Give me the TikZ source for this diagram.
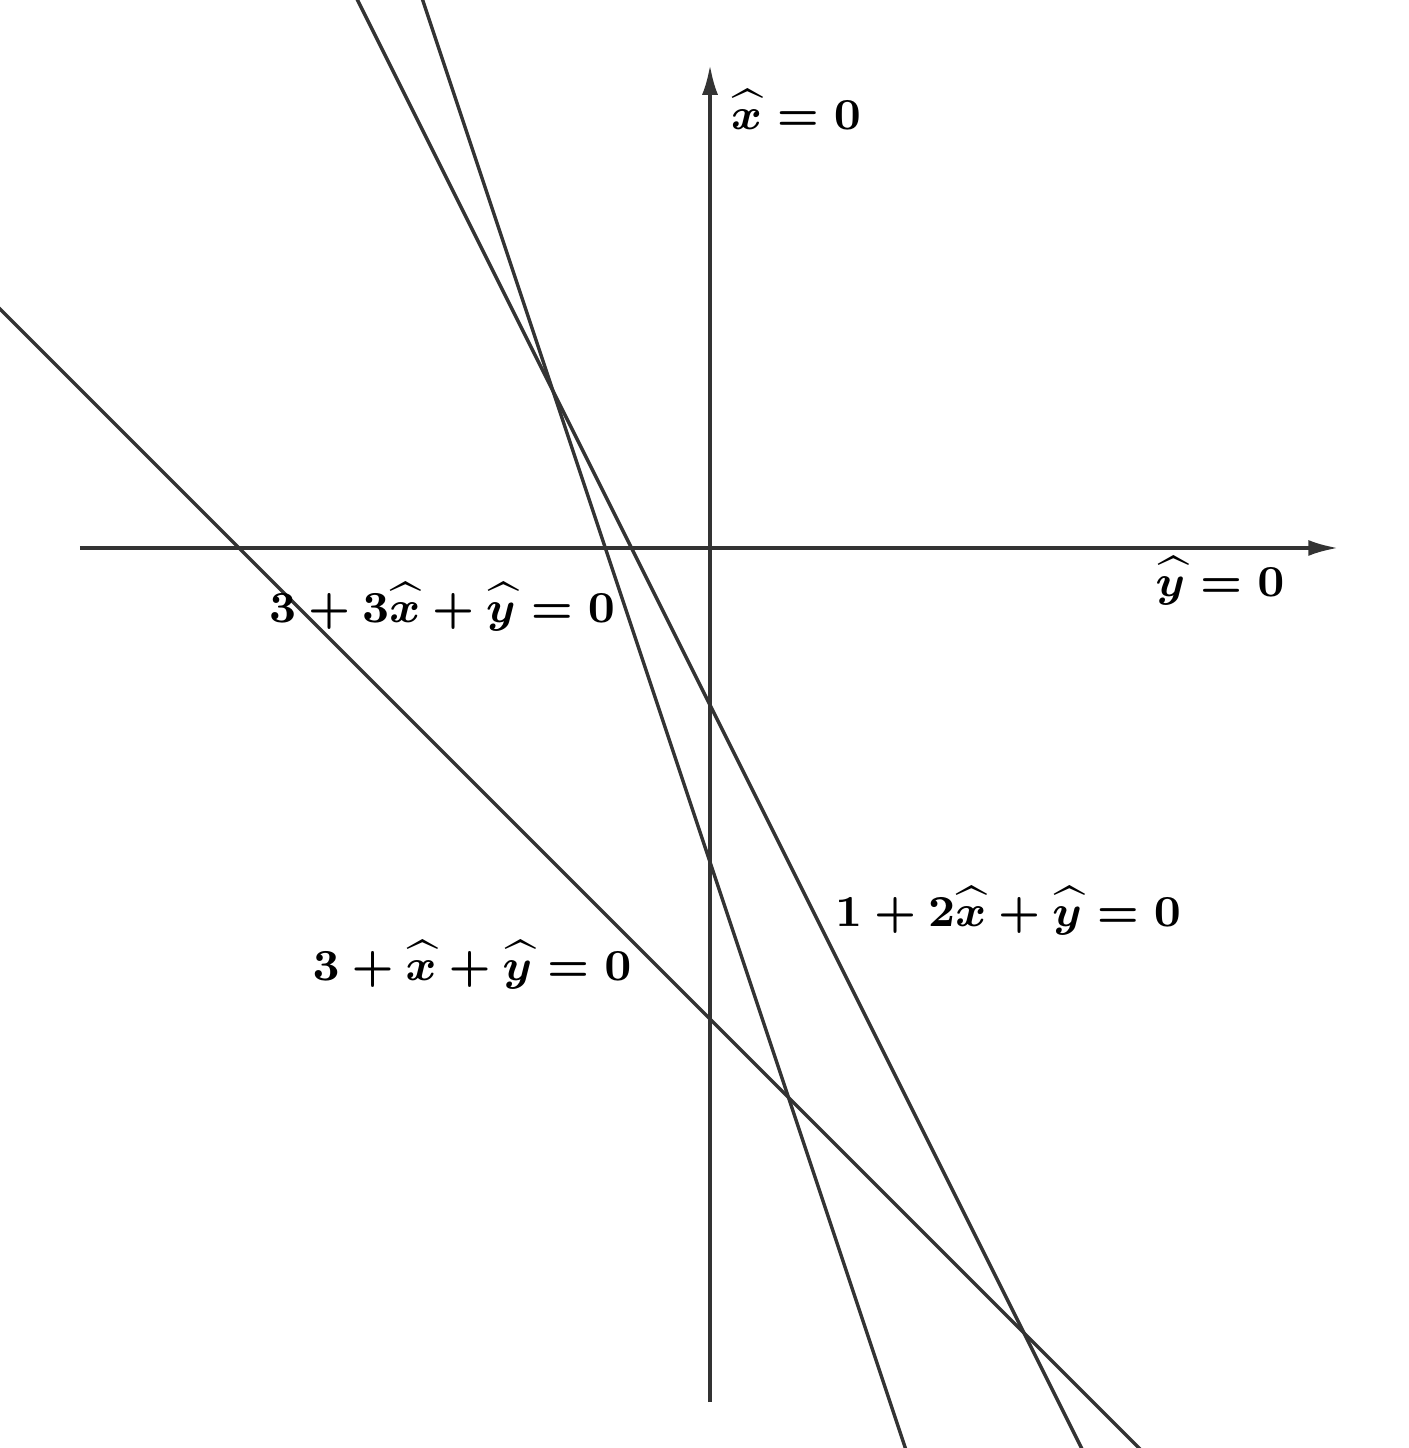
\documentclass[tikz,border=0pt]{standalone}
\usetikzlibrary{arrows.meta}
\definecolor{ln}{HTML}{333333}
\tikzset{
  curve/.style={draw=ln, line width=0.62pt},
  axis/.style={draw=ln, line width=0.62pt, -{Latex[length=5.4pt,width=2.9pt]}},
  lab/.style={inner sep=0pt, font=\fontsize{8.5}{10}\selectfont\boldmath}
}
\begin{document}
\begin{tikzpicture}[x=1cm,y=1cm]
\useasboundingbox (-4.522,-5.732) rectangle (4.446,3.490);
\clip (-4.522,-5.732) rectangle (4.446,3.490);
% lines
\draw[curve] (-4.6,1.6) -- (2.8,-5.8);          % 3 + x + y = 0
\draw[curve] (-2.3,3.6) -- (2.4,-5.8);          % y = -2x - 1
\draw[curve] (-1.9,3.7) -- (1.27,-5.81);        % y = -3x - 2
% axes
\coordinate (hl) at (-4.013,0);
\coordinate (hr) at (4.0,0);
\coordinate (vb) at (0,-5.44);
\coordinate (vt) at (0,3.076);
\draw[axis] (hl) -- (hr);
\draw[axis] (vb) -- (vt);
% labels
\node[lab] (lx) at (0.548,2.79) {$\widehat{x}=0$};
\node[lab] (ly) at (3.248,-0.21) {$\widehat{y}=0$};
\node[lab] (l1) at (-1.707,-0.375) {$3+3\widehat{x}+\widehat{y}=0$};
\node[lab] (l2) at (1.898,-2.31) {$1+2\widehat{x}+\widehat{y}=0$};
\node[lab] (l3) at (-1.516,-2.655) {$3+\widehat{x}+\widehat{y}=0$};
\end{tikzpicture}
\end{document}
